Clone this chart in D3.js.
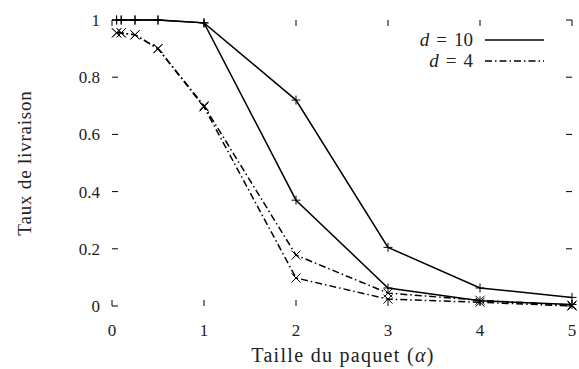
<!DOCTYPE html>
<html>
<head>
<meta charset="utf-8">
<script src="https://cdn.jsdelivr.net/npm/d3@7"></script>
<style>
  body { margin: 0; background: #fff; }
  text { font-family: "Liberation Serif", "DejaVu Serif", serif; fill: #222; }
</style>
</head>
<body>
<div id="chart"></div>
<script>
// packet sizes (alpha) and delivery rates
const alphas = [0.05, 0.1, 0.25, 0.5, 1, 2, 3, 4, 5];
const d10a = [1, 1, 1, 1, 0.99, 0.72, 0.205, 0.063, 0.03];
const d10b = [1, 1, 1, 1, 0.99, 0.37, 0.063, 0.018, 0.005];
const d4a = [0.955, 0.955, 0.948, 0.9, 0.7, 0.178, 0.045, 0.02, 0.003];
const d4b = [0.955, 0.955, 0.948, 0.9, 0.696, 0.098, 0.024, 0.013, 0.0];
const xTicks = [0, 1, 2, 3, 4, 5];
const yTicks = [0, 0.2, 0.4, 0.6, 0.8, 1];
const yTickLabels = ["0", "0.2", "0.4", "0.6", "0.8", "1"];

const W = 579, H = 369;
const margin = { top: 20, right: 7, bottom: 63, left: 112 };
const width = W - margin.left - margin.right;
const height = H - margin.top - margin.bottom;

const svg = d3.select("#chart").append("svg")
  .attr("width", W)
  .attr("height", H);
const g = svg.append("g")
  .attr("transform", "translate(" + margin.left + "," + margin.top + ")");

const x = d3.scaleLinear().domain([0, 5]).range([0, width]);
const y = d3.scaleLinear().domain([0, 1]).range([height, 0]);

const tl = 6;
const tickStyle = sel => sel.attr("stroke", "#000").attr("stroke-width", 1);

// ticks on all four sides (gnuplot style, no border)
xTicks.forEach(t => {
  g.append("line").call(tickStyle)
    .attr("x1", x(t)).attr("x2", x(t)).attr("y1", height).attr("y2", height - tl);
  g.append("line").call(tickStyle)
    .attr("x1", x(t)).attr("x2", x(t)).attr("y1", 0).attr("y2", tl);
  g.append("text")
    .attr("x", x(t)).attr("y", height + 30)
    .attr("text-anchor", "middle")
    .attr("font-size", 17)
    .text(t);
});
yTicks.forEach((t, i) => {
  g.append("line").call(tickStyle)
    .attr("x1", 0).attr("x2", tl).attr("y1", y(t)).attr("y2", y(t));
  g.append("line").call(tickStyle)
    .attr("x1", width).attr("x2", width - tl).attr("y1", y(t)).attr("y2", y(t));
  g.append("text")
    .attr("x", -12).attr("y", y(t) + 6)
    .attr("text-anchor", "end")
    .attr("font-size", 17)
    .text(yTickLabels[i]);
});

// axis titles
svg.append("text")
  .attr("x", 343).attr("y", 362)
  .attr("text-anchor", "middle")
  .attr("font-size", 20)
  .attr("letter-spacing", 1.3)
  .html('Taille du paquet (<tspan font-style="italic">α</tspan>)');
svg.append("text")
  .attr("transform", "translate(31,163) rotate(-90)")
  .attr("text-anchor", "middle")
  .attr("font-size", 19)
  .attr("letter-spacing", 0.8)
  .text("Taux de livraison");

const line = d3.line()
  .x((d, i) => x(alphas[i]))
  .y(d => y(d));

const dashDot = "7,3,1.5,3";
const series = [
  { values: d10a, dash: null, marker: "plus" },
  { values: d10b, dash: null, marker: "plus" },
  { values: d4a, dash: dashDot, marker: "cross" },
  { values: d4b, dash: dashDot, marker: "cross" }
];

const ms = 4.5;
function markerPath(kind) {
  if (kind === "plus") return `M${-ms},0H${ms}M0,${-ms}V${ms}`;
  return `M${-ms},${-ms}L${ms},${ms}M${-ms},${ms}L${ms},${-ms}`;
}

series.forEach(s => {
  g.append("path")
    .datum(s.values)
    .attr("fill", "none")
    .attr("stroke", "#000")
    .attr("stroke-width", 1.5)
    .attr("stroke-dasharray", s.dash)
    .attr("d", line);
  g.selectAll(null)
    .data(s.values)
    .enter().append("path")
    .attr("transform", (d, i) => "translate(" + x(alphas[i]) + "," + y(d) + ")")
    .attr("d", markerPath(s.marker))
    .attr("stroke", "#000")
    .attr("stroke-width", 1)
    .attr("fill", "none");
});

// legend
const legend = [
  { name: "10", dash: null },
  { name: "4", dash: dashDot }
];
legend.forEach((l, i) => {
  const ly = 40 + i * 21;
  svg.append("text")
    .attr("x", 473).attr("y", ly + 6)
    .attr("text-anchor", "end")
    .attr("font-size", 19)
    .html('<tspan font-style="italic">d</tspan><tspan dx="7">=</tspan><tspan dx="7">' + l.name + '</tspan>');
  svg.append("line")
    .attr("x1", 485).attr("x2", 544)
    .attr("y1", ly).attr("y2", ly)
    .attr("stroke", "#000")
    .attr("stroke-width", 1.5)
    .attr("stroke-dasharray", l.dash);
});
</script>
</body>
</html>
